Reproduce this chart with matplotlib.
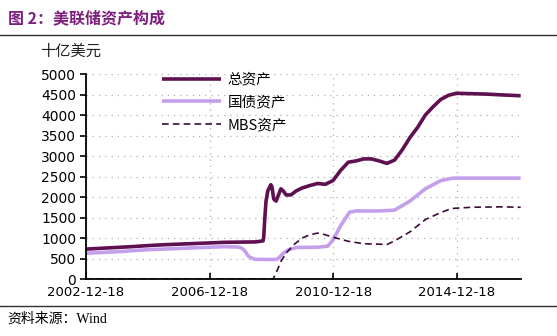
import numpy as np
import pandas as pd
import matplotlib
matplotlib.use('Agg')
import matplotlib.pyplot as plt
import matplotlib.dates as mdates

# data, in billions of USD
total_dates = ['2002-12-18', '2003-06-18', '2003-12-17', '2004-06-16', '2004-12-15',
               '2005-06-15', '2005-12-14', '2006-06-14', '2006-12-13', '2007-06-13',
               '2007-12-12', '2008-06-11', '2008-09-10', '2008-09-17', '2008-10-01',
               '2008-10-15', '2008-11-05', '2008-12-10', '2008-12-24', '2009-01-14',
               '2009-02-11', '2009-03-11', '2009-04-08', '2009-05-06', '2009-06-10',
               '2009-08-05', '2009-10-07', '2009-12-16', '2010-03-17', '2010-06-16',
               '2010-09-15', '2010-12-15', '2011-03-16', '2011-06-15', '2011-09-14',
               '2011-12-14', '2012-03-14', '2012-06-13', '2012-09-12', '2012-12-12',
               '2013-03-13', '2013-06-12', '2013-09-11', '2013-12-11', '2014-03-12',
               '2014-06-11', '2014-09-10', '2014-12-10', '2015-06-10', '2015-12-09',
               '2016-06-08', '2017-01-11']
total_vals = [730, 750, 770, 790, 815,
              835, 850, 865, 880, 895,
              900, 905, 930, 1000, 1500,
              1900, 2150, 2300, 2250, 1950,
              1900, 2050, 2200, 2150, 2050,
              2050, 2150, 2220, 2280, 2330,
              2310, 2400, 2650, 2850, 2880,
              2930, 2930, 2880, 2820, 2900,
              3150, 3450, 3700, 4000, 4200,
              4380, 4480, 4530, 4520, 4510,
              4490, 4470]

tsy_dates = ['2002-12-18', '2003-12-17', '2004-12-15', '2005-12-14', '2006-12-13',
             '2007-06-13', '2007-11-14', '2007-12-26', '2008-01-23', '2008-02-20',
             '2008-03-19', '2008-04-16', '2008-06-11', '2008-12-10', '2009-02-18',
             '2009-03-18', '2009-05-13', '2009-07-15', '2009-10-14', '2010-06-16',
             '2010-10-13', '2010-12-15', '2011-03-16', '2011-06-29', '2011-09-14',
             '2012-06-13', '2012-12-12', '2013-06-12', '2013-12-11', '2014-06-11',
             '2014-10-29', '2015-06-10', '2017-01-11']
tsy_vals = [630, 665, 715, 745, 775,
            790, 780, 760, 720, 650,
            560, 520, 480, 475, 480,
            520, 640, 720, 770, 775,
            800, 950, 1300, 1630, 1660,
            1660, 1680, 1900, 2200, 2400,
            2460, 2460, 2460]

mbs_dates = ['2002-12-18', '2009-01-07', '2009-02-11', '2009-04-15', '2009-06-17',
             '2009-09-16', '2009-12-16', '2010-03-17', '2010-06-16', '2010-09-15',
             '2010-12-15', '2011-06-15', '2011-12-14', '2012-06-13', '2012-09-12',
             '2012-12-12', '2013-06-12', '2013-12-11', '2014-06-11', '2014-10-15',
             '2015-06-10', '2016-06-08', '2017-01-11']
mbs_vals = [0, 0, 150, 450, 650,
            850, 1000, 1080, 1120, 1080,
            1020, 920, 860, 850, 840,
            930, 1150, 1450, 1620, 1720,
            1750, 1760, 1750]

labels = ['总资产', '国债资产', 'MBS资产']
xtick_dates = ['2002-12-18', '2006-12-18', '2010-12-18', '2014-12-18']
yticks = np.arange(0, 5001, 500)

CJK = ['Noto Sans CJK SC', 'DejaVu Sans']
TITLE_COLOR = '#7F1F7F'

fig = plt.figure(figsize=(5.57, 3.36), dpi=100)
ax = fig.add_axes([0.1544, 0.1696, 0.781, 0.6101])

ax.plot(pd.to_datetime(total_dates), total_vals, color='#5E1050', lw=2.6,
        label=labels[0], solid_capstyle='butt')
ax.plot(pd.to_datetime(tsy_dates), tsy_vals, color='#C4A0EC', lw=2.6,
        label=labels[1], solid_capstyle='butt')
ax.plot(pd.to_datetime(mbs_dates), mbs_vals, color='#3D0B3A', lw=1.2,
        ls=(0, (4, 2.5)), label=labels[2])

ax.set_xlim(pd.Timestamp('2002-12-18'), pd.Timestamp('2017-01-15'))
ax.set_ylim(0, 5000)
ax.set_yticks(yticks)
ax.set_xticks(pd.to_datetime(xtick_dates))
ax.set_xticklabels(xtick_dates)

ax.grid(True, color='#B0B0B0', ls=(0, (1, 4)), lw=0.9)
for s in ['top', 'right']:
    ax.spines[s].set_visible(False)
for s in ['left', 'bottom']:
    ax.spines[s].set_linewidth(1.3)
ax.tick_params(axis='y', direction='out', length=4, width=1.2, labelsize=10, pad=3)
ax.tick_params(axis='x', direction='in', length=4, width=1.2, labelsize=9.5, pad=5)

leg = ax.legend(loc='upper left', bbox_to_anchor=(0.145, 1.07), frameon=False,
                handlelength=4.0, labelspacing=0.6, handletextpad=0.5,
                prop={'family': CJK, 'size': 10.5})

# title, unit, source and rules
fig.text(0.014, 0.945, '图 2：美联储资产构成', color=TITLE_COLOR, fontsize=11.5,
         fontweight='bold', family=CJK, va='center')
fig.add_artist(plt.Line2D([0, 1], [0.896, 0.896], color='#303030', lw=1.0))
fig.text(0.072, 0.848, '十亿美元', fontsize=11, family=CJK, va='center', color='#222222')
fig.add_artist(plt.Line2D([0, 1], [0.088, 0.088], color='#303030', lw=1.0))
fig.text(0.014, 0.052, '资料来源：Wind', fontsize=10,
         family=['Liberation Serif', 'Noto Sans CJK SC'], va='center')

fig.savefig('out.png', dpi=100)
